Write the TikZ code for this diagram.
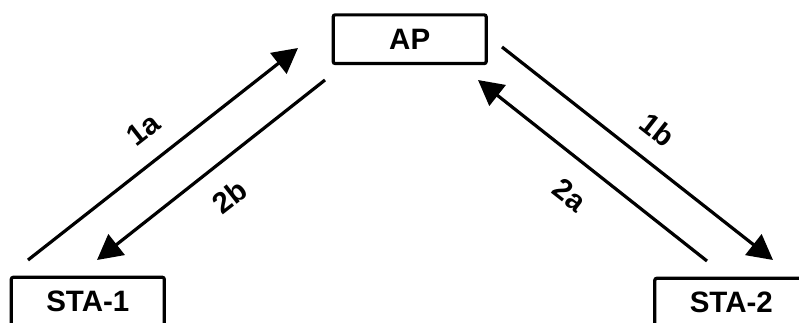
\documentclass[tikz,border=0pt]{standalone}
\usepackage{fontspec}
\setmainfont{Liberation Sans}
\usetikzlibrary{arrows.meta}
\begin{document}
\begin{tikzpicture}[x=1pt,y=-1pt,
  box/.style={draw, line width=3.2pt, rounded corners=2pt, minimum width=153pt, minimum height=48.7pt, inner sep=0pt, font=\fontsize{29.5}{29.5}\selectfont\bfseries},
  link/.style={line width=3.2pt, -{Triangle[length=25pt,width=26pt]}},
  lbl/.style={inner sep=0pt, font=\fontsize{29.5}{29.5}\selectfont\bfseries}]
\useasboundingbox (0,0) rectangle (799,322);
\clip (0,0) rectangle (799,322);
\fill[white] (0,0) rectangle (799,322);
\node[box] (AP) at (409.7,39.2) {AP};
\node[box] (STA1) at (87.8,301.6) {STA-1};
\node[box] (STA2) at (731.3,302.6) {STA-2};
\coordinate (a1s) at (28,260);
\coordinate (a1e) at (298,48);
\coordinate (b2s) at (325,80);
\coordinate (b2e) at (97,260);
\coordinate (b1s) at (502,47);
\coordinate (b1e) at (773,260);
\coordinate (a2s) at (707,261);
\coordinate (a2e) at (478,80);
\draw[link] (a1s) -- (a1e);
\draw[link] (b2s) -- (b2e);
\draw[link] (b1s) -- (b1e);
\draw[link] (a2s) -- (a2e);
\node[lbl, rotate=38] (L1a) at (143,130) {1a};
\node[lbl, rotate=38] (L2b) at (230,197) {2b};
\node[lbl, rotate=-38] (L1b) at (658,130) {1b};
\node[lbl, rotate=-38] (L2a) at (570,195) {2a};
\end{tikzpicture}
\end{document}
